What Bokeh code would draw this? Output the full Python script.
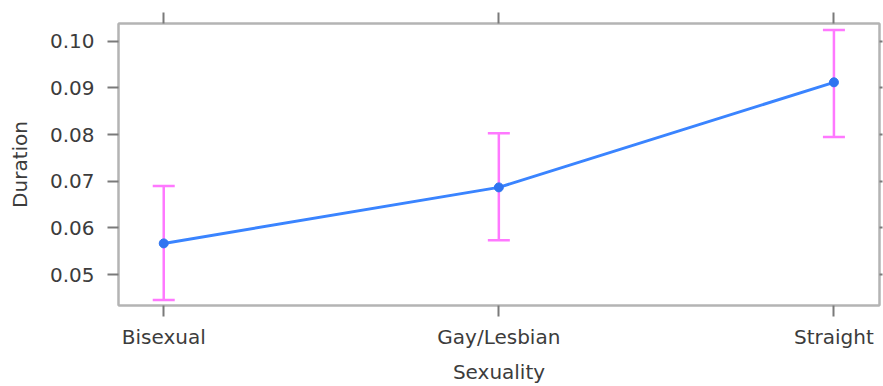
from bokeh.plotting import figure
from bokeh.models import (ColumnDataSource, Range1d, FixedTicker, LinearAxis,
                          Whisker, TeeHead)
from bokeh.embed import file_html
from bokeh.resources import INLINE

# Effect of sexuality on duration: fitted values with confidence limits
categories = ["Bisexual", "Gay/Lesbian", "Straight"]
fit = [0.0567, 0.0687, 0.0912]
lower = [0.0446, 0.0574, 0.0795]
upper = [0.0690, 0.0803, 0.1024]
y_ticks = [0.05, 0.06, 0.07, 0.08, 0.09, 0.10]
y_tick_labels = ["0.05", "0.06", "0.07", "0.08", "0.09", "0.10"]

positions = list(range(1, len(categories) + 1))
src = ColumnDataSource(dict(x=positions, fit=fit, lower=lower, upper=upper))

FONT = "DejaVu Sans"
TXT = "#3c3c3c"
BOX = "#b4b4b4"
TICK = "#7a7a7a"
CI_COL = "#ff78ff"

p = figure(width=883, height=386, output_backend="svg", toolbar_location=None,
           x_range=Range1d(0.865, 3.136), y_range=Range1d(0.0434, 0.1038),
           min_border_left=118, min_border_right=4, min_border_top=23,
           min_border_bottom=81, x_axis_label="Sexuality", y_axis_label="Duration")
p.background_fill_color = "white"
p.border_fill_color = "white"
p.outline_line_color = BOX
p.outline_line_width = 2
p.xgrid.visible = False
p.ygrid.visible = False

# bottom axis with category names
xa = p.xaxis[0]
xa.ticker = FixedTicker(ticks=positions)
xa.major_label_overrides = {i: c for i, c in zip(positions, categories)}
# left axis with numeric ticks
ya = p.yaxis[0]
ya.ticker = FixedTicker(ticks=y_ticks)
ya.major_label_overrides = {v: s for v, s in zip(y_ticks, y_tick_labels)}

for ax in (xa, ya):
    ax.axis_line_color = BOX
    ax.axis_line_width = 2
    ax.major_tick_line_color = TICK
    ax.major_tick_line_width = 2
    ax.major_tick_out = 11
    ax.major_tick_in = 0
    ax.minor_tick_line_color = None
    ax.major_label_text_font = FONT
    ax.major_label_text_font_size = "20px"
    ax.major_label_text_color = TXT
    ax.axis_label_text_font = FONT
    ax.axis_label_text_font_size = "20px"
    ax.axis_label_text_font_style = "normal"
    ax.axis_label_text_color = TXT
xa.major_label_standoff = 8
xa.axis_label_standoff = 8
ya.major_label_standoff = 13
ya.axis_label_standoff = 15

# unlabeled tick marks on the top and right sides of the box
top = LinearAxis(ticker=FixedTicker(ticks=positions),
                 major_label_overrides={i: "" for i in positions})
right = LinearAxis(ticker=FixedTicker(ticks=y_ticks),
                   major_label_overrides={v: "" for v in y_ticks})
for ax, out in ((top, 11), (right, 3)):
    ax.axis_line_color = BOX
    ax.axis_line_width = 2
    ax.major_tick_line_color = TICK
    ax.major_tick_line_width = 2
    ax.major_tick_out = out
    ax.major_tick_in = 0
    ax.minor_tick_line_color = None
    ax.major_label_text_font_size = "1px"
    ax.major_label_standoff = 0
p.add_layout(top, "above")
p.add_layout(right, "right")

# confidence intervals
ci = Whisker(source=src, base="x", upper="upper", lower="lower",
             line_color=CI_COL, line_width=2.5,
             upper_head=TeeHead(size=22, line_color=CI_COL, line_width=2.5),
             lower_head=TeeHead(size=22, line_color=CI_COL, line_width=2.5))
ci.level = "underlay"
p.add_layout(ci)

# fitted effect line and points
p.line("x", "fit", source=src, line_color="#3a84ff", line_width=3)
p.scatter("x", "fit", source=src, size=9, fill_color="#2f74f0",
          line_color="#2f74f0")

open("out.html", "w").write(file_html(p, INLINE))
